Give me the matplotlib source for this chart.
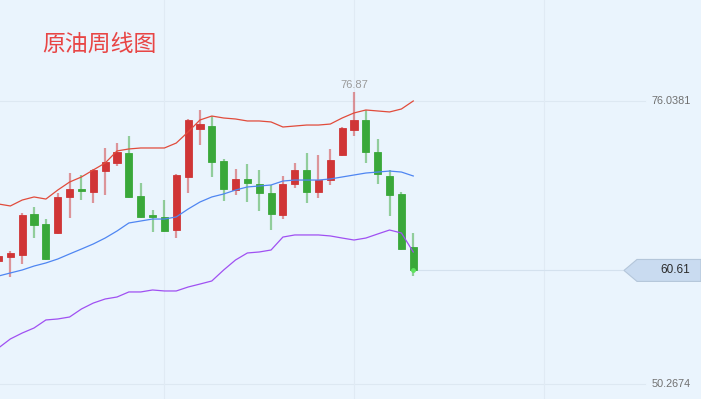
"""
Crude oil weekly candlestick chart with Bollinger-style bands.
"""

import matplotlib
matplotlib.use("Agg")
import matplotlib.pyplot as plt
import matplotlib.transforms as mtransforms
from matplotlib.patches import Polygon

plt.rcParams['font.family'] = ['Noto Sans CJK SC', 'DejaVu Sans']

title = "原油周线图"

# Weekly OHLC
opens = [61.47, 61.83, 62.02, 65.75, 64.84, 64.02, 67.30, 68.03, 67.75, 69.66,
         70.39, 71.30, 67.39, 65.66, 65.48, 64.29, 69.12, 73.49, 73.76, 70.57,
         67.93, 68.94, 68.48, 67.66, 65.66, 68.48, 69.76, 67.75, 68.84, 71.12,
         73.40, 74.31, 71.39, 69.21, 67.57, 62.74]
highs = [62.29, 62.38, 65.84, 66.39, 65.29, 67.66, 69.48, 69.30, 69.85, 71.76,
         72.21, 72.85, 68.57, 66.11, 67.02, 69.35, 74.40, 75.22, 74.67, 70.76,
         69.85, 70.30, 69.76, 68.39, 69.21, 70.39, 71.30, 71.12, 71.67, 73.67,
         76.87, 75.22, 72.58, 69.76, 67.75, 64.02]
lows = [61.01, 60.01, 61.20, 63.56, 61.60, 63.93, 65.38, 67.02, 66.75, 67.48,
        70.12, 67.25, 65.38, 64.11, 64.15, 63.56, 67.66, 72.03, 69.12, 66.93,
        67.48, 66.84, 66.02, 64.29, 65.29, 68.12, 66.75, 67.21, 68.39, 71.05,
        72.85, 70.39, 68.48, 65.57, 62.50, 60.10]
closes = [61.92, 62.20, 65.66, 64.75, 61.65, 67.30, 68.03, 67.84, 69.76, 70.48,
          71.39, 67.30, 65.48, 65.48, 64.20, 69.30, 74.31, 73.94, 70.48, 68.03,
          68.94, 68.57, 67.66, 65.75, 68.48, 69.76, 67.75, 68.84, 70.67, 73.58,
          74.31, 71.39, 69.39, 67.48, 62.56, 60.61]

# Bands
upper = [66.66, 66.48, 67.02, 67.30, 67.11, 67.93, 68.66, 69.12, 69.76, 70.39,
         71.49, 71.67, 71.76, 71.76, 71.76, 72.21, 73.22, 74.31, 74.67, 74.49,
         74.40, 74.22, 74.22, 74.13, 73.67, 73.76, 73.85, 73.85, 73.94, 74.49,
         74.95, 75.22, 75.13, 75.04, 75.31, 76.04]
middle = [60.10, 60.38, 60.65, 61.01, 61.29, 61.65, 62.11, 62.56, 63.02, 63.56,
          64.20, 64.93, 65.11, 65.29, 65.29, 65.48, 66.20, 66.84, 67.30, 67.57,
          67.93, 68.21, 68.30, 68.39, 68.75, 68.84, 68.84, 68.84, 68.94, 69.12,
          69.30, 69.48, 69.57, 69.66, 69.57, 69.21]
lower = [53.55, 54.37, 54.91, 55.37, 56.10, 56.19, 56.37, 57.10, 57.64, 58.01,
         58.19, 58.65, 58.65, 58.83, 58.74, 58.74, 59.10, 59.37, 59.65, 60.65,
         61.56, 62.20, 62.29, 62.47, 63.65, 63.84, 63.84, 63.84, 63.75, 63.56,
         63.38, 63.56, 63.93, 64.29, 64.02, 62.29]

axis_ticks = [76.0381, 50.2674]
grid_weeks = [14, 30, 46]

bg = "#eaf4fd"
up_col = "#d03536"
down_col = "#3aa83a"

fig = plt.figure(figsize=(7.01, 3.99), dpi=100, facecolor=bg)
ax = fig.add_axes([0, 0, 1, 1])
ax.set_facecolor(bg)
for s in ax.spines.values():
    s.set_visible(False)
ax.set_xticks([])
ax.set_yticks([])

n = len(closes)
x = list(range(n))
ax.set_xlim(0.127, 59.28)
ax.set_ylim(48.903, 85.235)

# grid
for v in axis_ticks:
    ax.axhline(v, xmin=0, xmax=645 / 701, color="#dde8f2", lw=0.8, zorder=0)
for g in grid_weeks:
    ax.axvline(g, color="#e0eaf4", lw=0.8, zorder=0)

# candles
for i in x:
    o, h, l, c = opens[i], highs[i], lows[i], closes[i]
    col = up_col if c >= o else down_col
    ax.vlines(i, l, h, color=col, alpha=0.5, lw=1.6, zorder=2)
    ax.bar(i, max(abs(c - o), 0.15), bottom=min(o, c), width=0.6,
           color=col, edgecolor=col, lw=0.6, zorder=3)

# bands
ax.plot(x, upper, color="#e14b3b", lw=0.9, zorder=4)
ax.plot(x, middle, color="#4f86f2", lw=0.9, zorder=4)
ax.plot(x, lower, color="#a050f2", lw=0.9, zorder=4)

# last price marker and line
last = closes[-1]
ax.plot(n - 1, last, "o", color="#5ee35e", ms=2.5, zorder=5)
xl0, xl1 = ax.get_xlim()
start = (n - 1 - xl0) / (xl1 - xl0)
ax.axhline(last, xmin=start, xmax=624 / 701, color="#d4e1ee", lw=0.8, zorder=1)

# price tag
trans = mtransforms.blended_transform_factory(ax.transAxes, ax.transData)
dh = 1.0
tag = Polygon([(624 / 701, last), (637 / 701, last + dh), (1.0, last + dh),
               (1.0, last - dh), (637 / 701, last - dh)],
              closed=True, transform=trans, facecolor="#c9dbf0",
              edgecolor="#b4c6da", lw=0.8, zorder=6, clip_on=False)
ax.add_patch(tag)
ax.text(690 / 701, last, f"{last:.2f}", transform=trans, ha="right",
        va="center", fontsize=8.5, color="#2a2a2a", family="Liberation Sans",
        zorder=7)

# axis labels
for v in axis_ticks:
    ax.text(691 / 701, v, f"{v:.4f}", transform=trans, ha="right",
            va="center", fontsize=7.8, color="#707070",
            family="Liberation Sans")

# high label
hi = max(highs)
hi_i = highs.index(hi)
ax.annotate(f"{hi:.2f}", (hi_i, hi), xytext=(0, 5), textcoords="offset points",
            ha="center", va="center", fontsize=8, color="#9a9a9a",
            family="Liberation Sans")

fig.text(42 / 701, 1 - 44 / 399, title, ha="left", va="center",
         fontsize=16.5, color="#e84545", fontweight="light")

fig.savefig("out.png", dpi=100, facecolor=bg)
